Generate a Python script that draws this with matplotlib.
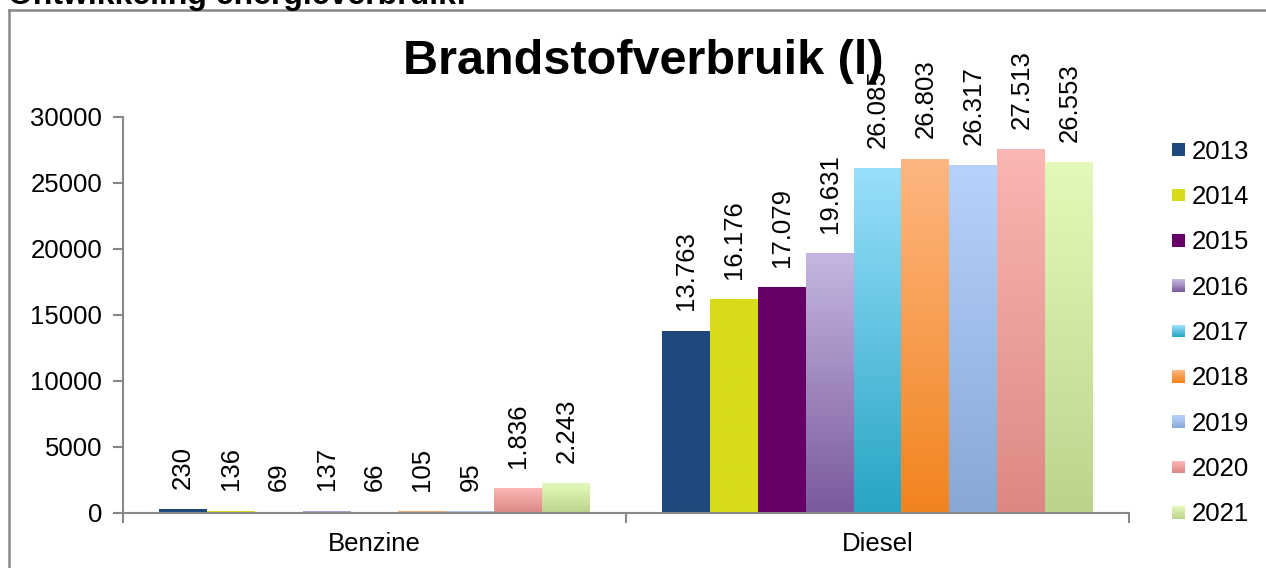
import numpy as np
import matplotlib
matplotlib.use("Agg")
import matplotlib.pyplot as plt
from matplotlib.patches import Rectangle
from matplotlib.legend_handler import HandlerBase
from matplotlib.lines import Line2D

plt.rcParams['font.family'] = ['Liberation Sans', 'DejaVu Sans']

# data
categories = ['Benzine', 'Diesel']
years = ['2013', '2014', '2015', '2016', '2017', '2018', '2019', '2020', '2021']
benzine = [230, 136, 69, 137, 66, 105, 95, 1836, 2243]
diesel = [13763, 16176, 17079, 19631, 26085, 26803, 26317, 27513, 26553]

# (top colour, bottom colour) per year
colors = [
    ('#1f497d', '#1f497d'),
    ('#d7db1a', '#d7db1a'),
    ('#660066', '#660066'),
    ('#c5b6e1', '#7a5a9c'),
    ('#98dffa', '#28a5c5'),
    ('#fdb680', '#f2841f'),
    ('#b6d2fb', '#88a8d6'),
    ('#fbb6b3', '#dd8884'),
    ('#e3f9b9', '#bbd48d'),
]


def fmt(v):
    return f"{v:,}".replace(',', '.')


def gradient(top, bottom, n=64):
    c0 = np.array(matplotlib.colors.to_rgb(top))
    c1 = np.array(matplotlib.colors.to_rgb(bottom))
    t = np.linspace(0, 1, n)[:, None]
    return (c0 * (1 - t) + c1 * t)[:, None, :]


class GradientHandler(HandlerBase):
    def create_artists(self, legend, orig_handle, xdescent, ydescent,
                       width, height, fontsize, trans):
        top, bottom = orig_handle.get_label().split('|')
        side = width
        x0 = xdescent
        y0 = -ydescent + (height - side) / 2
        n = 12
        grad = gradient(top, bottom, n)[:, 0, :]
        arts = []
        for i in range(n):
            r = Rectangle((x0, y0 + side - (i + 1) * side / n), side, side / n,
                          facecolor=grad[i], edgecolor='none', transform=trans)
            arts.append(r)
        return arts


fig = plt.figure(figsize=(12.66, 5.68), dpi=100)
ax = fig.add_axes([123 / 1266, 55 / 568, (1129 - 123) / 1266, (513 - 117) / 568])

n = len(years)
bar_w = 0.0954
centers = np.array([0.5, 1.5])
series = np.array([benzine, diesel])

for i in range(n):
    xs = centers - bar_w * n / 2 + bar_w * i
    for j, x0 in enumerate(xs):
        h = series[j, i]
        top, bottom = colors[i]
        ax.imshow(gradient(top, bottom), extent=[x0, x0 + bar_w, 0, h],
                  aspect='auto', origin='upper', zorder=2, interpolation='bilinear')
        ax.annotate(fmt(h), (x0 + bar_w / 2, h), xytext=(0, 15),
                    textcoords='offset points', rotation=90, ha='center',
                    va='bottom', fontsize=18.5, color='black', zorder=4)

ax.set_xlim(0, 2)
ax.set_ylim(0, 30000)
ax.set_yticks(np.arange(0, 30001, 5000))
ax.set_xticks(centers)
ax.set_xticklabels(categories)
ax.set_xticks([0, 1, 2], minor=True)
ax.tick_params(axis='x', which='major', length=0, labelsize=18.5, pad=14)
ax.tick_params(axis='x', which='minor', length=7, width=1.5, color='#888888')
ax.tick_params(axis='y', length=7, width=1.5, color='#888888', labelsize=18.5, pad=8)

for s in ['top', 'right']:
    ax.spines[s].set_visible(False)
for s in ['left', 'bottom']:
    ax.spines[s].set_color('#888888')
    ax.spines[s].set_linewidth(1.5)
    ax.spines[s].set_zorder(3)

# legend
handles = [Line2D([], [], label=f"{c[0]}|{c[1]}") for c in colors]
leg = fig.legend(handles, years, handler_map={Line2D: GradientHandler()},
                 loc='center left', bbox_to_anchor=(1172 / 1266, 1 - 333 / 568),
                 frameon=False, fontsize=18.5, handlelength=0.5,
                 handletextpad=0.25, labelspacing=0.83, borderpad=0,
                 borderaxespad=0)

# title and page heading
fig.text(643 / 1266, 1 - 62 / 568, 'Brandstofverbruik (l)', ha='center',
         va='center', fontsize=35, fontweight='bold', zorder=10)
fig.text(8 / 1266, 1 - 4 / 568, 'Ontwikkeling energieverbruik:', ha='left',
         va='baseline', fontsize=23, fontweight='bold')

# outer frame (left and top edges)
fig.add_artist(Line2D([9 / 1266, 9 / 1266], [0, 1 - 10 / 568],
                      color='#888888', lw=1.8))
fig.add_artist(Line2D([9 / 1266, 1], [1 - 10 / 568, 1 - 10 / 568],
                      color='#888888', lw=1.8))

fig.savefig('out.png', dpi=100)
